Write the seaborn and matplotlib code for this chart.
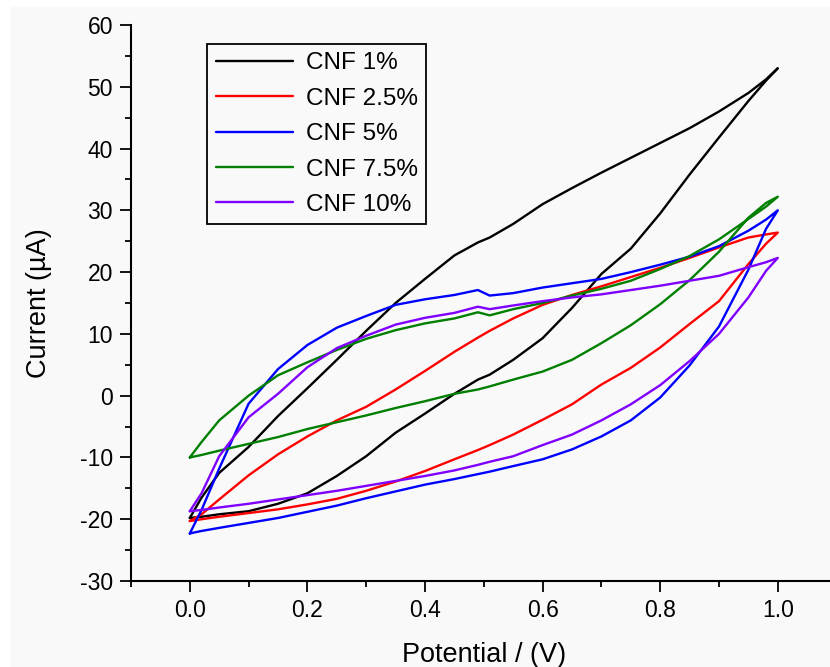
import matplotlib
matplotlib.use("Agg")
import matplotlib.pyplot as plt
from matplotlib.patches import Rectangle
from matplotlib.ticker import MultipleLocator
import numpy as np
import pandas as pd
import seaborn as sns

# potential grid (V), shared by all loops
potential = [0.0, 0.02, 0.05, 0.1, 0.15, 0.2, 0.25, 0.3, 0.35, 0.4, 0.45, 0.49,
             0.51, 0.55, 0.6, 0.65, 0.7, 0.75, 0.8, 0.85, 0.9, 0.95, 0.98, 1.0]

samples = ["CNF 1%", "CNF 2.5%", "CNF 5%", "CNF 7.5%", "CNF 10%"]
colors = ["#000000", "#ff0000", "#0000ff", "#007f00", "#8000ff"]

# current (uA), upper branch, read left to right
cnf1_upper = [-19.8, -16.5, -12.5, -8.3, -3.3, 1.2, 5.8, 10.5, 15.0, 18.9, 22.7, 24.8,
              25.6, 27.8, 31.0, 33.6, 36.1, 38.5, 40.9, 43.3, 46.0, 49.0, 51.2, 53.0]
cnf25_upper = [-20.3, -19.2, -16.8, -12.9, -9.5, -6.6, -4.0, -1.8, 1.0, 4.0, 7.1, 9.4,
               10.5, 12.5, 14.7, 16.3, 17.7, 19.2, 20.7, 22.3, 24.0, 25.6, 26.1, 26.4]
cnf5_upper = [-22.3, -18.5, -11.8, -1.3, 4.3, 8.2, 11.0, 12.9, 14.7, 15.6, 16.3, 17.1,
              16.2, 16.6, 17.5, 18.2, 18.9, 20.0, 21.2, 22.5, 24.2, 26.7, 28.5, 30.0]
cnf75_upper = [-10.0, -7.5, -4.0, 0.0, 3.3, 5.4, 7.4, 9.2, 10.6, 11.7, 12.5, 13.5,
               13.0, 14.0, 15.0, 16.2, 17.3, 18.6, 20.5, 22.6, 25.3, 28.6, 30.6, 32.2]
cnf10_upper = [-18.7, -15.8, -9.8, -3.5, 0.3, 4.6, 7.7, 9.7, 11.5, 12.6, 13.4, 14.4,
               14.0, 14.6, 15.3, 15.9, 16.4, 17.1, 17.8, 18.6, 19.4, 20.8, 21.6, 22.3]

# current (uA), lower branch, also read left to right
cnf1_lower = [-19.8, -19.6, -19.2, -18.7, -17.5, -15.8, -13.0, -9.8, -6.0, -2.9, 0.3, 2.6,
              3.4, 5.8, 9.3, 14.2, 19.7, 23.8, 29.5, 35.8, 41.8, 47.7, 51.0, 53.0]
cnf25_lower = [-20.3, -20.0, -19.6, -19.0, -18.4, -17.6, -16.7, -15.4, -13.9, -12.2, -10.3, -8.8,
               -8.0, -6.3, -3.9, -1.4, 1.8, 4.5, 7.8, 11.6, 15.3, 21.3, 24.6, 26.4]
cnf5_lower = [-22.3, -21.9, -21.4, -20.6, -19.8, -18.8, -17.8, -16.6, -15.5, -14.4, -13.5, -12.7,
              -12.3, -11.4, -10.3, -8.7, -6.6, -4.0, -0.3, 4.9, 11.2, 20.4, 27.0, 30.0]
cnf75_lower = [-10.0, -9.6, -8.9, -7.8, -6.7, -5.4, -4.3, -3.2, -2.0, -0.9, 0.3, 1.0,
               1.5, 2.6, 3.9, 5.8, 8.5, 11.4, 14.8, 18.7, 23.3, 28.8, 31.2, 32.2]
cnf10_lower = [-18.7, -18.5, -18.1, -17.5, -16.8, -16.1, -15.4, -14.6, -13.8, -13.0, -12.1, -11.2,
               -10.7, -9.8, -8.0, -6.3, -4.0, -1.4, 1.7, 5.6, 10.0, 15.9, 20.2, 22.3]

uppers = [cnf1_upper, cnf25_upper, cnf5_upper, cnf75_upper, cnf10_upper]
lowers = [cnf1_lower, cnf25_lower, cnf5_lower, cnf75_lower, cnf10_lower]

# build closed loops: out along the upper branch, back along the lower one
rows = []
for name, up, low in zip(samples, uppers, lowers):
    v_loop = potential + potential[::-1][1:]
    i_loop = up + low[::-1][1:]
    for k, (v, i) in enumerate(zip(v_loop, i_loop)):
        rows.append({"sample": name, "step": k, "potential": v, "current": i})
df = pd.DataFrame(rows)

sns.set_style("ticks")
plt.rcParams["font.family"] = ["Liberation Sans", "DejaVu Sans"]
plt.rcParams["axes.unicode_minus"] = False
plt.rcParams["text.color"] = "black"
plt.rcParams["axes.labelcolor"] = "black"
plt.rcParams["xtick.color"] = "black"
plt.rcParams["ytick.color"] = "black"
bg = "#f9f9f9"

fig = plt.figure(figsize=(8.3, 6.67), dpi=100, facecolor="white")
fig.patches.append(Rectangle((11 / 830, 0), 1, 660 / 667, transform=fig.transFigure,
                             color=bg, zorder=-10))
ax = fig.add_axes([131 / 830, 86 / 667, 705.6 / 830, 556 / 667])
ax.set_facecolor(bg)

sns.lineplot(data=df, x="potential", y="current", hue="sample", hue_order=samples,
             palette=colors, sort=False, estimator=None, units="sample",
             linewidth=1.7, legend=False, ax=ax)

ax.set_xlim(-0.1, 1.1)
ax.set_ylim(-30, 60)
ax.xaxis.set_major_locator(MultipleLocator(0.2))
ax.xaxis.set_minor_locator(MultipleLocator(0.1))
ax.yaxis.set_major_locator(MultipleLocator(10))
ax.yaxis.set_minor_locator(MultipleLocator(5))
ax.set_xticks([0.0, 0.2, 0.4, 0.6, 0.8, 1.0])
ax.set_xticklabels(["0.0", "0.2", "0.4", "0.6", "0.8", "1.0"])
ax.tick_params(which="major", direction="out", length=8, width=1.3, labelsize=16.5, pad=5,
               color="black", labelcolor="black")
ax.tick_params(which="minor", direction="out", length=4, width=1.3, color="black")
sns.despine(ax=ax)
for side in ["left", "bottom"]:
    ax.spines[side].set_linewidth(1.5)
    ax.spines[side].set_color("black")

ax.set_xlabel("Potential / (V)", fontsize=19.5, labelpad=14, color="black")
ax.set_ylabel("Current (\u00b5A)", fontsize=19.5, labelpad=20, color="black")

leg = ax.legend(handles=ax.lines[:5], labels=samples, loc="upper left",
                bbox_to_anchor=(0.108, 0.966), borderaxespad=0, fontsize=17.5,
                handlelength=3.2, labelspacing=0.55, handletextpad=0.5,
                borderpad=0.35, fancybox=False, framealpha=1, facecolor=bg,
                edgecolor="black")
leg.get_frame().set_linewidth(1.3)
for t in leg.get_texts():
    t.set_color("black")

fig.savefig("out.png", dpi=100, facecolor=fig.get_facecolor())
